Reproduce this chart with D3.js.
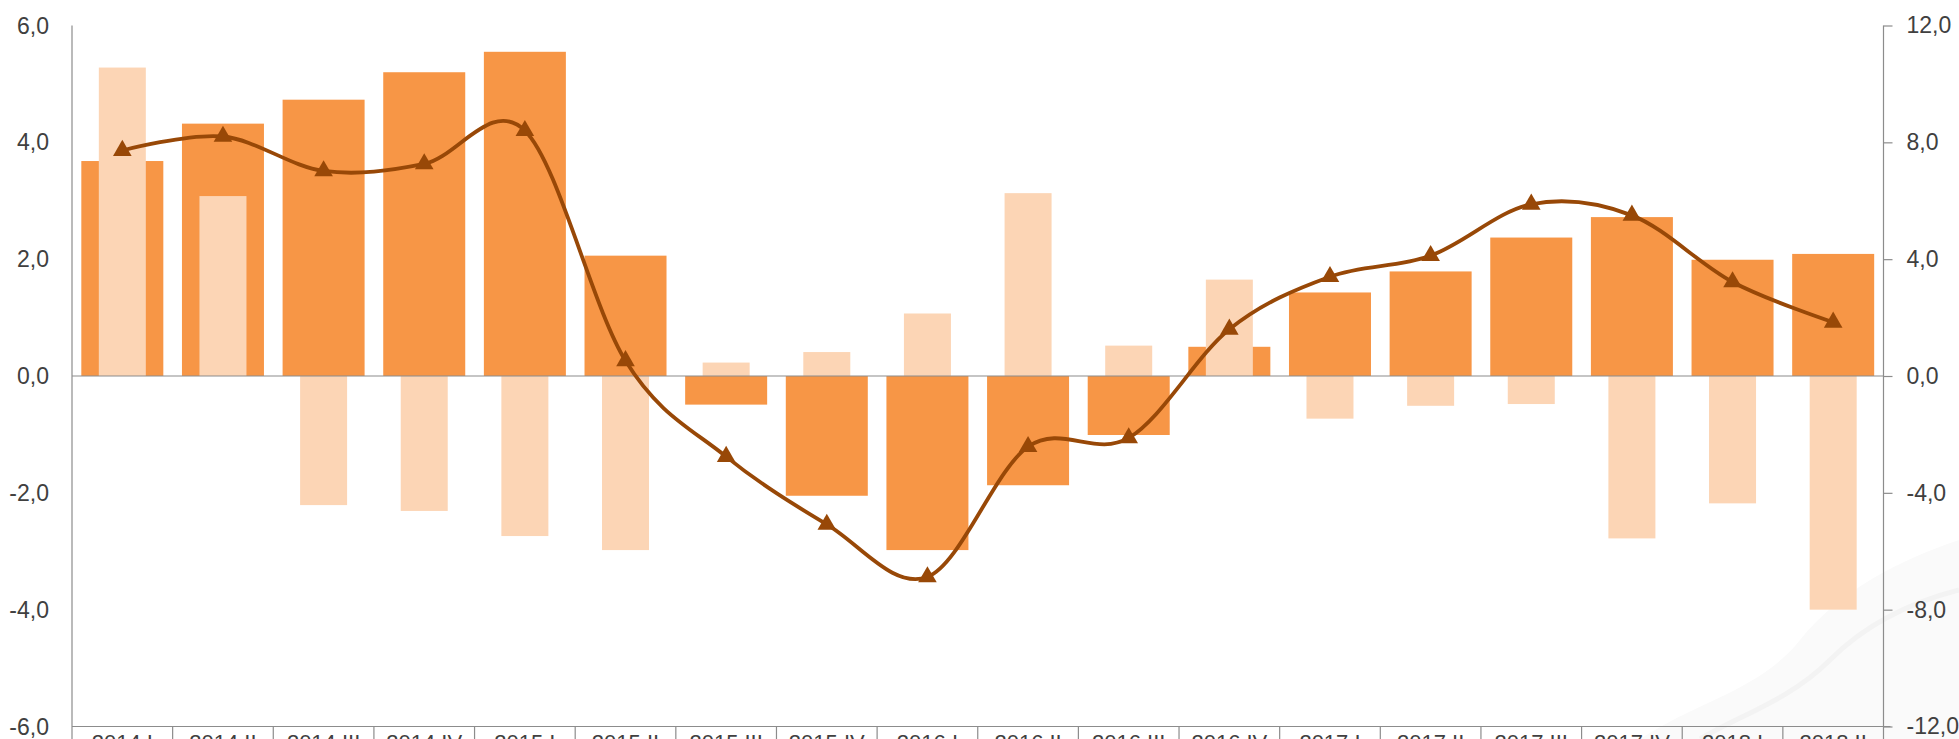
<!DOCTYPE html>
<meta charset="utf-8">
<head>
<title>Quarterly growth chart</title>
<script src="https://cdn.jsdelivr.net/npm/d3@7"></script>
<style>
body {
    margin: 0;
    background: #fff;
}

text {
    font-family: "Liberation Sans", Arial, sans-serif;
    fill: #404040;
}

.axis-line {
    stroke: #8c8c8c;
    stroke-width: 1.2px;
    fill: none;
}
</style>
</head>
<body>
<script>
// Categories (quarters)
const quarters = ["2014 I", "2014 II", "2014 III", "2014 IV",
    "2015 I", "2015 II", "2015 III", "2015 IV",
    "2016 I", "2016 II", "2016 III", "2016 IV",
    "2017 I", "2017 II", "2017 III", "2017 IV",
    "2018 I", "2018 II"];

// Dark orange bars (left axis)
const darkBars = [3.68, 4.32, 4.73, 5.20, 5.55, 2.06, -0.49, -2.05, -2.98, -1.87,
    -1.01, 0.50, 1.43, 1.79, 2.37, 2.72, 1.99, 2.09];

// Light orange bars (left axis)
const lightBars = [5.28, 3.08, -2.21, -2.31, -2.74, -2.98, 0.23, 0.41, 1.07, 3.13,
    0.52, 1.65, -0.73, -0.51, -0.48, -2.78, -2.18, -4.0];

// Line (right axis)
const lineValues = [7.72, 8.2, 7.02, 7.26, 8.4, 0.52, -2.76, -5.08, -6.88, -2.42,
    -2.12, 1.6, 3.4, 4.12, 5.88, 5.5, 3.22, 1.84];

const leftTicks = [6, 4, 2, 0, -2, -4, -6];
const rightTicks = [12, 8, 4, 0, -4, -8, -12];

const W = 1959, H = 739;
const plotLeft = 72, plotRight = 1883.5;
const plotTop = 25.5, plotBottom = 726.5;

const svg = d3.select("body")
    .append("svg")
    .attr("width", W)
    .attr("height", H);

const fmt = v => d3.format(".1f")(v).replace(".", ",").replace("−", "-");

const x = d3.scaleBand()
    .domain(quarters)
    .range([plotLeft, plotRight])
    .padding(0);

const yLeft = d3.scaleLinear().domain([-6, 6]).range([plotBottom, plotTop]);
const yRight = d3.scaleLinear().domain([-12, 12]).range([plotBottom, plotTop]);

// very faint background watermark, bottom right
svg.append("path")
    .attr("d", "M1640,739 C1700,700 1760,690 1800,640 C1840,590 1900,560 1959,540 L1959,739 Z")
    .attr("fill", "#fafafa");
svg.append("path")
    .attr("d", "M1700,739 C1740,715 1790,700 1830,660 C1870,620 1920,600 1959,590")
    .attr("fill", "none")
    .attr("stroke", "#f3f3f3")
    .attr("stroke-width", 5);

const darkW = 82, lightW = 47;

// dark bars
svg.append("g").selectAll("rect")
    .data(darkBars)
    .join("rect")
    .attr("x", (d, i) => x(quarters[i]) + x.bandwidth() / 2 - darkW / 2)
    .attr("width", darkW)
    .attr("y", d => yLeft(Math.max(0, d)))
    .attr("height", d => Math.abs(yLeft(d) - yLeft(0)))
    .attr("fill", "#f79646");

// light bars, drawn in front
svg.append("g").selectAll("rect")
    .data(lightBars)
    .join("rect")
    .attr("x", (d, i) => x(quarters[i]) + x.bandwidth() / 2 - lightW / 2)
    .attr("width", lightW)
    .attr("y", d => yLeft(Math.max(0, d)))
    .attr("height", d => Math.abs(yLeft(d) - yLeft(0)))
    .attr("fill", "#fcd5b5");

// zero line
svg.append("line")
    .attr("class", "axis-line")
    .attr("x1", plotLeft).attr("x2", plotRight)
    .attr("y1", yLeft(0)).attr("y2", yLeft(0));

// left axis (no tick marks)
svg.append("line")
    .attr("class", "axis-line")
    .attr("x1", plotLeft).attr("x2", plotLeft)
    .attr("y1", plotTop).attr("y2", H);

svg.append("g").selectAll("text")
    .data(leftTicks)
    .join("text")
    .attr("x", 49)
    .attr("y", d => yLeft(d))
    .attr("dy", "0.35em")
    .attr("text-anchor", "end")
    .attr("font-size", 23)
    .text(fmt);

// right axis
const rightAxis = d3.axisRight(yRight)
    .tickValues(rightTicks)
    .tickSize(9)
    .tickPadding(14)
    .tickFormat(fmt);

const ra = svg.append("g")
    .attr("transform", `translate(${plotRight},0)`)
    .call(rightAxis);
ra.select(".domain").remove();
ra.selectAll(".tick line").attr("stroke", "#8c8c8c").attr("stroke-width", 1.2);
ra.selectAll(".tick text")
    .attr("font-size", 23)
    .attr("fill", "#404040")
    .style("font-family", "'Liberation Sans', Arial, sans-serif");
svg.append("line")
    .attr("class", "axis-line")
    .attr("x1", plotRight).attr("x2", plotRight)
    .attr("y1", plotTop).attr("y2", H);

// bottom axis with category separators
svg.append("line")
    .attr("class", "axis-line")
    .attr("x1", plotLeft).attr("x2", plotRight + 7)
    .attr("y1", plotBottom).attr("y2", plotBottom);

svg.append("g").selectAll("line")
    .data(quarters.slice(1))
    .join("line")
    .attr("class", "axis-line")
    .attr("x1", d => x(d)).attr("x2", d => x(d))
    .attr("y1", plotBottom).attr("y2", H);

svg.append("g").selectAll("text")
    .data(quarters)
    .join("text")
    .attr("x", d => x(d) + x.bandwidth() / 2)
    .attr("y", plotBottom + 23)
    .attr("text-anchor", "middle")
    .attr("font-size", 22)
    .text(d => d);

// smoothed line with triangle markers
const line = d3.line()
    .x((d, i) => x(quarters[i]) + x.bandwidth() / 2)
    .y(d => yRight(d))
    .curve(d3.curveCatmullRom.alpha(0));

svg.append("path")
    .datum(lineValues)
    .attr("d", line)
    .attr("fill", "none")
    .attr("stroke", "#984807")
    .attr("stroke-width", 3.8);

svg.append("g").selectAll("path")
    .data(lineValues)
    .join("path")
    .attr("transform", (d, i) => `translate(${x(quarters[i]) + x.bandwidth() / 2},${yRight(d)})`)
    .attr("d", d3.symbol().type(d3.symbolTriangle).size(150))
    .attr("fill", "#984807");
</script>
</body>
</html>
